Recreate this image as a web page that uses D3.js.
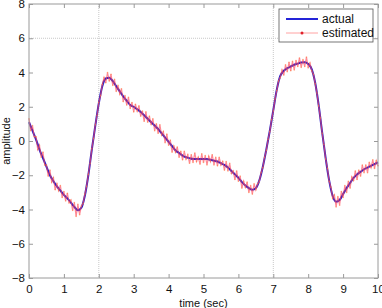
<!DOCTYPE html>
<html>
<head>
<meta charset="utf-8">
<style>
  body { margin: 0; background: #fff; }
  svg text { font-family: "Liberation Sans", Arial, sans-serif; fill: #111; }
</style>
</head>
<body>
<div id="chart"></div>
<script src="https://d3js.org/d3.v7.min.js"></script>
<script>
  // actual signal, sampled every 0.1 s from 0 to 10
  const actualStep = 0.1;
  const actual = [
    1.1, 0.6, 0.1, -0.5, -1.0, -1.5, -2.0, -2.35, -2.65, -2.9,
    -3.15, -3.35, -3.6, -3.85, -4.05, -3.9, -3.2, -2.0, -0.5, 0.9,
    2.2, 3.2, 3.65, 3.7, 3.5, 3.2, 2.9, 2.6, 2.35, 2.1,
    2.0, 1.85, 1.7, 1.5, 1.3, 1.1, 0.9, 0.7, 0.45, 0.2,
    -0.05, -0.3, -0.55, -0.7, -0.85, -0.95, -1.0, -1.05, -1.05, -1.05,
    -1.05, -1.05, -1.1, -1.15, -1.2, -1.3, -1.4, -1.55, -1.75, -1.95,
    -2.15, -2.4, -2.6, -2.75, -2.85, -2.75, -2.3, -1.5, -0.5, 0.6,
    1.8, 3.0, 3.8, 4.1, 4.25, 4.35, 4.45, 4.52, 4.58, 4.6,
    4.5, 4.2, 3.4, 2.1, 0.5, -1.0, -2.3, -3.2, -3.55, -3.45,
    -3.1, -2.75, -2.45, -2.15, -1.95, -1.8, -1.65, -1.55, -1.45, -1.35,
    -1.25
  ];

  // estimated signal, sampled every 0.05 s
  const estimatedStep = 0.05;
  const estimated = [
    1.3, 0.6, 0.9, 0.25, 0.25, -0.5, -0.25, -0.95, -0.65, -1.4,
    -1.4, -2.05, -1.7, -2.4, -2.15, -2.85, -2.5, -2.9, -2.6, -3.3,
    -2.95, -3.5, -3.05, -3.6, -3.45, -4.05, -3.6, -4.4, -3.7, -4.3,
    -3.8, -3.65, -3.1, -2.65, -1.95, -1.3, -0.45, 0.15, 0.95, 1.5,
    2.25, 2.65, 3.3, 3.7, 3.4, 4.0, 3.5, 3.9, 3.25, 3.6,
    2.9, 3.25, 2.75, 3.05, 2.3, 2.65, 2.1, 2.55, 1.9, 2.25,
    1.7, 2.15, 1.75, 2.05, 1.45, 1.75, 1.15, 1.7, 1.1, 1.45,
    0.95, 1.3, 0.6, 1.0, 0.45, 0.95, 0.35, 0.55, -0.1, 0.4,
    -0.25, 0.05, -0.65, -0.3, -0.65, -0.35, -0.95, -0.6, -1.1, -0.6,
    -1.05, -0.8, -1.3, -0.8, -1.25, -0.7, -1.2, -0.95, -1.35, -0.75,
    -1.25, -0.85, -1.4, -0.9, -1.2, -0.8, -1.4, -0.95, -1.45, -0.95,
    -1.4, -1.2, -1.7, -1.2, -1.75, -1.3, -1.9, -1.75, -2.25, -1.75,
    -2.35, -2.05, -2.75, -2.35, -2.7, -2.4, -3.0, -2.6, -3.1, -2.5,
    -2.85, -2.5, -2.35, -1.85, -1.55, -0.95, -0.55, 0.1, 0.55, 1.25,
    1.75, 2.45, 2.95, 3.5, 3.7, 4.15, 3.85, 4.45, 4.05, 4.6,
    4.1, 4.65, 4.15, 4.7, 4.35, 4.85, 4.3, 4.75, 4.35, 4.9,
    4.3, 4.55, 4.1, 3.9, 3.35, 2.8, 2.05, 1.35, 0.45, -0.2,
    -1.05, -1.6, -2.35, -2.7, -3.35, -3.15, -3.85, -3.25, -3.75, -2.95,
    -3.3, -2.6, -3.0, -2.35, -2.75, -2.1, -2.3, -1.75, -2.25, -1.7,
    -2.05, -1.4, -1.85, -1.4, -1.85, -1.25, -1.55, -1.1, -1.6, -1.15,
    -1.45
  ];

  const xTicks = [0, 1, 2, 3, 4, 5, 6, 7, 8, 9, 10];
  const yTicks = [-8, -6, -4, -2, 0, 2, 4, 6, 8];
  const xGrid = [2, 7];
  const yGrid = [6];
  const seriesNames = ['actual', 'estimated'];

  const width = 382;
  const height = 308;
  const margin = { top: 4, right: 4, bottom: 30, left: 29 };
  const innerW = width - margin.left - margin.right;
  const innerH = height - margin.top - margin.bottom;

  const svg = d3.select('#chart')
    .append('svg')
    .attr('width', width)
    .attr('height', height);

  const g = svg.append('g')
    .attr('transform', `translate(${margin.left},${margin.top})`);

  const x = d3.scaleLinear().domain([0, 10]).range([0, innerW]);
  const y = d3.scaleLinear().domain([-8, 8]).range([innerH, 0]);

  // partial dotted grid
  g.selectAll('.vgrid')
    .data(xGrid)
    .enter()
    .append('line')
    .attr('x1', (d) => x(d)).attr('x2', (d) => x(d))
    .attr('y1', 0).attr('y2', innerH)
    .attr('stroke', '#c8c8c8')
    .attr('stroke-width', 1)
    .attr('stroke-dasharray', '1,1');

  g.selectAll('.hgrid')
    .data(yGrid)
    .enter()
    .append('line')
    .attr('x1', 0).attr('x2', innerW)
    .attr('y1', (d) => y(d)).attr('y2', (d) => y(d))
    .attr('stroke', '#c8c8c8')
    .attr('stroke-width', 1)
    .attr('stroke-dasharray', '1,1');

  // actual series
  const actLine = d3.line()
    .x((d, i) => x(i * actualStep))
    .y((d) => y(d))
    .curve(d3.curveMonotoneX);

  g.append('path')
    .datum(actual)
    .attr('fill', 'none')
    .attr('stroke', '#2a20c8')
    .attr('stroke-width', 2)
    .attr('d', actLine);

  // estimated series, drawn over the actual one
  const estLine = d3.line()
    .x((d, i) => x(i * estimatedStep))
    .y((d) => y(d));

  g.append('path')
    .datum(estimated)
    .attr('fill', 'none')
    .attr('stroke', '#ff4a5a')
    .attr('stroke-opacity', 0.65)
    .attr('stroke-width', 1.2)
    .attr('d', estLine);

  g.selectAll('.dot')
    .data(estimated)
    .enter()
    .append('circle')
    .attr('cx', (d, i) => x(i * estimatedStep))
    .attr('cy', (d) => y(d))
    .attr('r', 0.8)
    .attr('fill', '#ff7a40')
    .attr('opacity', 0.6);

  // box with inward ticks on all sides
  const axisColor = '#9a9a9a';
  const tickLen = 4;

  g.append('rect')
    .attr('x', 0).attr('y', 0)
    .attr('width', innerW).attr('height', innerH)
    .attr('fill', 'none')
    .attr('stroke', axisColor)
    .attr('stroke-width', 1);

  const xAxis = d3.axisBottom(x).tickValues(xTicks).tickSize(-tickLen).tickPadding(7);
  const xAxisTop = d3.axisTop(x).tickValues(xTicks).tickSize(-tickLen).tickFormat('');
  const yAxis = d3.axisLeft(y).tickValues(yTicks).tickSize(-tickLen).tickPadding(4);
  const yAxisRight = d3.axisRight(y).tickValues(yTicks).tickSize(-tickLen).tickFormat('');

  const axes = [
    g.append('g').attr('transform', `translate(0,${innerH})`).call(xAxis),
    g.append('g').call(xAxisTop),
    g.append('g').call(yAxis),
    g.append('g').attr('transform', `translate(${innerW},0)`).call(yAxisRight)
  ];
  axes.forEach((a) => {
    a.select('.domain').remove();
    a.selectAll('line').attr('stroke', axisColor);
    a.selectAll('text')
      .style('font-family', '"Liberation Sans", Arial, sans-serif')
      .style('font-size', '11.5px')
      .attr('fill', '#111');
  });

  // axis titles
  svg.append('text')
    .attr('x', margin.left + innerW / 2)
    .attr('y', height - 1)
    .attr('text-anchor', 'middle')
    .style('font-size', '11px')
    .text('time (sec)');

  svg.append('text')
    .attr('transform', `translate(10,${margin.top + innerH / 2}) rotate(-90)`)
    .attr('text-anchor', 'middle')
    .style('font-size', '11px')
    .text('amplitude');

  // legend
  const legend = svg.append('g').attr('transform', 'translate(279,9)');
  legend.append('rect')
    .attr('width', 94).attr('height', 33)
    .attr('fill', '#fff')
    .attr('stroke', '#555')
    .attr('stroke-width', 0.8);

  legend.append('line')
    .attr('x1', 7).attr('x2', 39)
    .attr('y1', 10).attr('y2', 10)
    .attr('stroke', '#2424d8')
    .attr('stroke-width', 2);

  legend.append('line')
    .attr('x1', 7).attr('x2', 39)
    .attr('y1', 24).attr('y2', 24)
    .attr('stroke', '#ff8a8a')
    .attr('stroke-width', 0.8);

  legend.append('circle')
    .attr('cx', 23).attr('cy', 24)
    .attr('r', 1.5)
    .attr('fill', '#e0202a');

  legend.selectAll('.ltext')
    .data(seriesNames)
    .enter()
    .append('text')
    .attr('x', 43)
    .attr('y', (d, i) => 14 + i * 14)
    .style('font-size', '12px')
    .text((d) => d);
</script>
</body>
</html>
